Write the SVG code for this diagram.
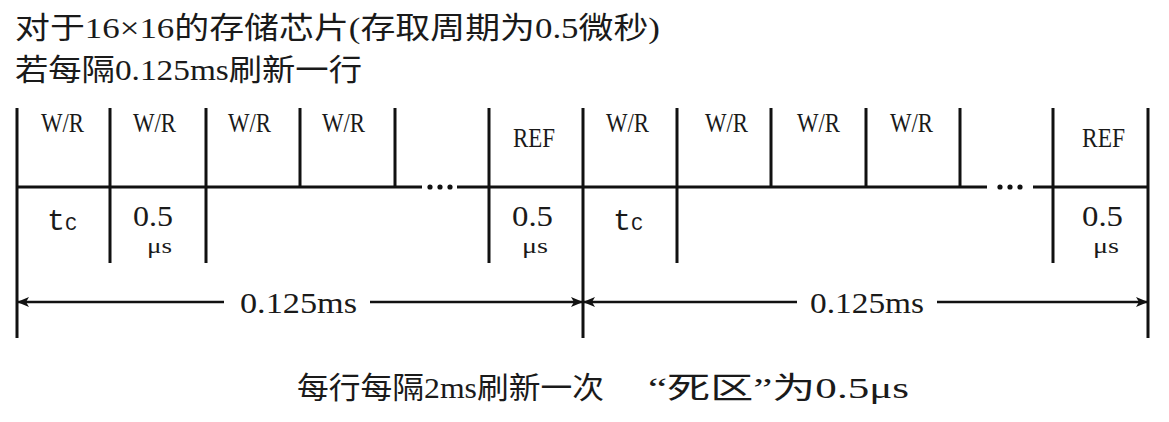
<svg xmlns="http://www.w3.org/2000/svg" width="1169" height="422" viewBox="0 0 1169 422">
<style>
.cjk{font-family:"Liberation Serif","Noto Sans CJK SC",serif;font-size:30px;fill:#1a1a1a}
.lbl{font-family:"Liberation Serif",serif;font-size:28px;fill:#1a1a1a}
.num{font-family:"Liberation Serif",serif;font-size:30px;fill:#1a1a1a}
.mu{font-family:"Liberation Serif",serif;font-size:21px;fill:#1a1a1a}
.tc{font-family:"Liberation Mono",monospace;font-size:30px;fill:#1a1a1a}
.ln{stroke:#111;stroke-width:3;fill:none}
.dim{stroke:#111;stroke-width:2.5;fill:none}
</style>
<defs>
<marker id="ah" markerUnits="userSpaceOnUse" markerWidth="12" markerHeight="10" refX="11" refY="5" orient="auto-start-reverse" viewBox="0 0 12 10">
<path d="M0,0 L12,5 L0,10 L3,5 z" fill="#111"/>
</marker>
</defs>
<rect width="1169" height="422" fill="#ffffff"/>
<g id="title">
<text class="cjk" x="15" y="38" textLength="645" lengthAdjust="spacingAndGlyphs">对于16×16的存储芯片(存取周期为0.5微秒)</text>
<text class="cjk" x="15" y="80" textLength="347" lengthAdjust="spacingAndGlyphs">若每隔0.125ms刷新一行</text>
</g>
<g id="connectors">
<path class="ln" d="M17,108V338 M583,108V338 M1148,108V338"/>
<path class="ln" d="M110,108V263 M206,108V263 M489,108V263 M677,108V263 M1053,108V263"/>
<path class="ln" d="M300,108V187 M395,108V187 M771,108V187 M866,108V187 M960,108V187"/>
<path class="ln" d="M17,187H422 M457,187H987 M1033,187H1148"/>
<g fill="#111">
<circle cx="430" cy="187" r="2.6"/><circle cx="440" cy="187" r="2.6"/><circle cx="450" cy="187" r="2.6"/>
<circle cx="1000" cy="187" r="2.6"/><circle cx="1010" cy="187" r="2.6"/><circle cx="1020" cy="187" r="2.6"/>
</g>
<line class="dim" x1="224" y1="302" x2="18" y2="302" marker-end="url(#ah)"/>
<line class="dim" x1="370" y1="302" x2="582" y2="302" marker-end="url(#ah)"/>
<line class="dim" x1="797" y1="302" x2="584" y2="302" marker-end="url(#ah)"/>
<line class="dim" x1="937" y1="302" x2="1147" y2="302" marker-end="url(#ah)"/>
</g>
<g id="slots-left">
<text class="lbl" x="41" y="132" textLength="43" lengthAdjust="spacingAndGlyphs">W/R</text>
<text class="lbl" x="133" y="132" textLength="43" lengthAdjust="spacingAndGlyphs">W/R</text>
<text class="lbl" x="228" y="132" textLength="43" lengthAdjust="spacingAndGlyphs">W/R</text>
<text class="lbl" x="322" y="132" textLength="43" lengthAdjust="spacingAndGlyphs">W/R</text>
<text class="lbl" x="513" y="147" textLength="42" lengthAdjust="spacingAndGlyphs">REF</text>
<text class="tc" x="47" y="230">t<tspan font-size="20">C</tspan></text>
<text class="num" x="133" y="226" textLength="40" lengthAdjust="spacingAndGlyphs">0.5</text>
<text class="mu" x="147" y="253" textLength="25" lengthAdjust="spacingAndGlyphs">μs</text>
<text class="num" x="512" y="226" textLength="41" lengthAdjust="spacingAndGlyphs">0.5</text>
<text class="mu" x="522" y="253" textLength="26" lengthAdjust="spacingAndGlyphs">μs</text>
</g>
<g id="slots-right">
<text class="lbl" x="606" y="132" textLength="43" lengthAdjust="spacingAndGlyphs">W/R</text>
<text class="lbl" x="705" y="132" textLength="43" lengthAdjust="spacingAndGlyphs">W/R</text>
<text class="lbl" x="797" y="132" textLength="43" lengthAdjust="spacingAndGlyphs">W/R</text>
<text class="lbl" x="890" y="132" textLength="43" lengthAdjust="spacingAndGlyphs">W/R</text>
<text class="lbl" x="1082" y="147" textLength="43" lengthAdjust="spacingAndGlyphs">REF</text>
<text class="tc" x="613" y="230">t<tspan font-size="20">C</tspan></text>
<text class="num" x="1082" y="226" textLength="41" lengthAdjust="spacingAndGlyphs">0.5</text>
<text class="mu" x="1093" y="253" textLength="26" lengthAdjust="spacingAndGlyphs">μs</text>
</g>
<g id="dimension-labels">
<text class="num" x="240" y="313" textLength="117" lengthAdjust="spacingAndGlyphs">0.125ms</text>
<text class="num" x="810" y="313" textLength="114" lengthAdjust="spacingAndGlyphs">0.125ms</text>
</g>
<g id="footer">
<text class="cjk" x="297" y="398" textLength="307" lengthAdjust="spacingAndGlyphs">每行每隔2ms刷新一次</text>
<text class="cjk" x="648" y="398" textLength="261" lengthAdjust="spacingAndGlyphs">“死区”为0.5μs</text>
</g>
</svg>
